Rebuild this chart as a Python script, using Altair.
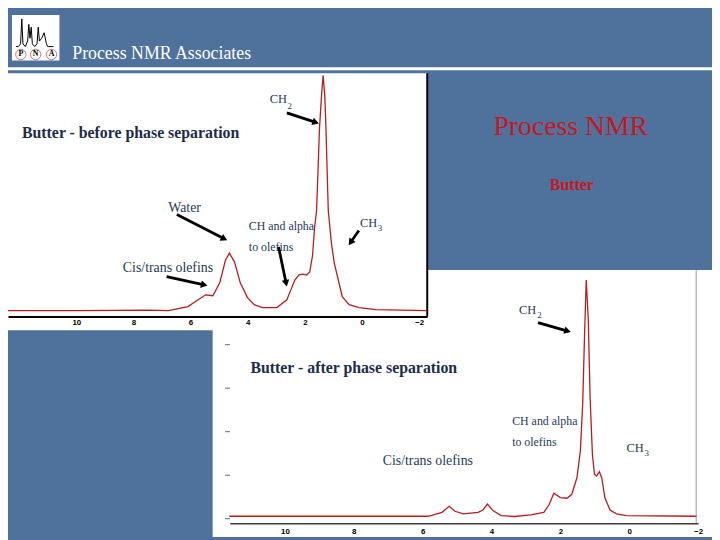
import math
import altair as alt
import pandas as pd

# ---------------- data ----------------
# Top spectrum: butter before phase separation (ppm, relative intensity)
top_ppm = [12.39, 10.0, 7.47, 6.78, 6.09, 5.74, 5.47, 5.22, 4.98, 4.78, 4.64, 4.46, 4.26, 4.01, 3.77,
           3.49, 2.98, 2.63, 2.49, 2.35, 2.21, 2.08, 1.94, 1.83, 1.73, 1.66, 1.59, 1.54, 1.49, 1.42,
           1.36, 1.30, 1.26, 1.22, 1.18, 1.07, 0.97, 0.83, 0.69, 0.45, 0.10, -0.48, -2.28]
top_int = [0.0, 0.0, 0.2, 0.0, 1.7, 4.6, 6.7, 6.3, 11.8, 21.4, 24.4, 20.6, 11.8, 5.5, 2.5,
           1.3, 1.3, 4.6, 8.8, 13.0, 15.1, 15.5, 15.1, 16.4, 23.5, 35.3, 42.4, 59.2, 76.9, 90.8,
           100.0, 90.8, 76.9, 59.2, 42.4, 28.6, 20.2, 13.0, 5.9, 2.5, 1.3, 0.4, 0.0]

# Bottom spectrum: butter after phase separation
bot_ppm = [11.61, 5.84, 5.44, 5.23, 5.06, 4.82, 4.39, 4.25, 4.12, 3.96, 3.72, 3.34, 2.86, 2.48, 2.33,
           2.19, 2.00, 1.81, 1.67, 1.52, 1.42, 1.35, 1.30, 1.25, 1.19, 1.14, 1.07, 1.01, 0.95, 0.87,
           0.80, 0.71, 0.56, 0.37, 0.09, -1.95]
bot_int = [0.9, 0.9, 2.7, 5.5, 3.2, 2.0, 2.7, 3.8, 6.5, 3.5, 1.2, 0.8, 1.5, 2.7, 6.2,
           11.5, 9.5, 9.2, 11.0, 18.6, 30.9, 53.6, 83.8, 109.5, 91.4, 56.5, 29.2, 20.1, 19.4, 21.4,
           18.6, 9.5, 3.8, 2.0, 1.2, 0.9]

x_tick_values = [10, 8, 6, 4, 2, 0, -2]
bot_y_tick_values = [0, 20, 40, 60, 80]

# annotation texts
top_title = ["Butter - before phase separation"]
bot_title = ["Butter - after phase separation"]
top_labels14 = ["Water", "Cis/trans olefins"]
top_labels12 = ["CH and alpha", "to olefins"]
top_ch = ["CH", "CH"]
top_sub = ["2", "3"]
bot_labels14 = ["Cis/trans olefins"]
bot_labels12 = ["CH and alpha", "to olefins"]
bot_ch = ["CH", "CH"]
bot_sub = ["2", "3"]

logo_x = [0, 1, 2, 2.5, 3, 4, 5, 5.5, 6, 6.5, 7, 8, 9, 9.5, 10, 11, 12, 13, 13.5, 14, 15, 16]
logo_y = [0, 0, 1, 10, 1, 0, 2, 8, 3, 7, 1, 0, 1, 7, 2, 3, 5, 1, 0, 0, 0, 0]

# ---------------- scales ----------------
TOP_X = dict(domain=[12.39, -2.28], range=[0, 423.9])
TOP_Y = dict(domain=[0, 100], range=[303, 65])
BOT_X = dict(domain=[11.6, -2.0], range=[224.3, 698.0])
BOT_Y = dict(domain=[0, 100], range=[513, 293])


def sc(d):
    return alt.Scale(domain=d["domain"], range=d["range"], nice=False, zero=False)


def px(d, v):
    (d0, d1), (r0, r1) = d["domain"], d["range"]
    return r0 + (v - d0) * (r1 - r0) / (d1 - d0)


def inv(d, p):
    (d0, d1), (r0, r1) = d["domain"], d["range"]
    return d0 + (p - r0) * (d1 - d0) / (r1 - r0)


SERIF = "Liberation Serif"
SANS = "Liberation Sans"
ANNO = "#263a57"
TITLE = "#1c2c4b"
RED_TRACE = "#b81c1c"
BLUE_BG = "#4f729c"

layers = []


def one():
    return alt.Data(values=[{}])


def rect(x1, x2, y1, y2, color):
    return alt.Chart(one()).mark_rect(color=color).encode(
        x=alt.value(x1), x2=alt.value(x2), y=alt.value(y1), y2=alt.value(y2))


def text_layer(texts, ppms, ints, XS, YS, size, weight="normal", color=ANNO, font=SERIF):
    df = pd.DataFrame({"text": texts, "ppm": ppms, "inten": ints})
    return alt.Chart(df).mark_text(align="left", baseline="middle", font=font, fontSize=size,
                                   fontWeight=weight, color=color).encode(
        x=alt.X("ppm:Q", scale=sc(XS), axis=None),
        y=alt.Y("inten:Q", scale=sc(YS), axis=None),
        text="text:N")


def arrows(starts, tips, XS, YS):
    rows = []
    for (p1, i1), (p2, i2) in zip(starts, tips):
        sx, sy = px(XS, p1), px(YS, i1)
        tx, ty = px(XS, p2), px(YS, i2)
        dx, dy = tx - sx, ty - sy
        L = math.hypot(dx, dy)
        ux, uy = dx / L, dy / L
        hx, hy = tx - 3.6 * ux, ty - 3.6 * uy
        ang = math.degrees(math.atan2(dy, dx)) % 360
        rows.append({"p1": p1, "i1": i1, "hp": inv(XS, hx), "hi": inv(YS, hy), "ang": ang})
    df = pd.DataFrame(rows)
    rule = alt.Chart(df).mark_rule(color="black", strokeWidth=2.8).encode(
        x=alt.X("p1:Q", scale=sc(XS), axis=None), y=alt.Y("i1:Q", scale=sc(YS), axis=None),
        x2="hp:Q", y2="hi:Q")
    head = alt.Chart(df).mark_point(shape="triangle-right", filled=True, opacity=1, size=60,
                                    color="black").encode(
        x=alt.X("hp:Q", scale=sc(XS), axis=None), y=alt.Y("hi:Q", scale=sc(YS), axis=None),
        angle=alt.Angle("ang:Q", scale=None))
    return [rule, head]


axis_label_style = dict(labelFont=SANS, labelFontSize=8, labelFontWeight="bold", labelColor="black",
                        ticks=False, grid=False, title=None, labelOverlap=False, labelFlush=False,
                        zindex=1)

# ---------------- bottom panel ----------------
layers.append(rect(207, 712, 262, 532, "white"))
layers.append(alt.Chart(one()).mark_rule(color="#9a9a9a", strokeWidth=1).encode(
    x=alt.value(696), y=alt.value(262), y2=alt.value(518)))

bot_df = pd.DataFrame({"ppm": bot_ppm, "inten": bot_int})
layers.append(alt.Chart(bot_df).mark_line(color=RED_TRACE, strokeWidth=1.3).encode(
    x=alt.X("ppm:Q", scale=sc(BOT_X),
            axis=alt.Axis(orient="bottom", offset=-14, values=x_tick_values, domainColor="#3a3a3a",
                          domainWidth=1.5, labelPadding=4, **axis_label_style)),
    y=alt.Y("inten:Q", scale=sc(BOT_Y),
            axis=alt.Axis(orient="left", offset=-224, values=bot_y_tick_values, labels=False,
                          domain=False, ticks=True, tickSize=5, tickColor="#666666", grid=False,
                          title=None, zindex=1))))

layers.append(text_layer(bot_title, [11.0], [69.1], BOT_X, BOT_Y, 16, "bold", TITLE))
layers.append(text_layer(bot_labels14, [7.16], [26.4], BOT_X, BOT_Y, 14))
layers.append(text_layer(bot_labels12, [3.40, 3.40], [44.5, 35.0], BOT_X, BOT_Y, 12))
layers.append(text_layer(bot_ch, [3.20, 0.08], [95.9, 32.3], BOT_X, BOT_Y, 12.5))
layers.append(text_layer(bot_sub, [2.67, -0.44], [93.2, 30.0], BOT_X, BOT_Y, 9))
layers += arrows([(2.65, 89.9)], [(1.69, 85.6)], BOT_X, BOT_Y)

# ---------------- top panel ----------------
layers.append(rect(0, 424, 63, 323, "white"))
layers.append(alt.Chart(one()).mark_rule(color="black", strokeWidth=2).encode(
    x=alt.value(424), y=alt.value(63), y2=alt.value(309)))

top_df = pd.DataFrame({"ppm": top_ppm, "inten": top_int})
layers.append(alt.Chart(top_df).mark_line(color=RED_TRACE, strokeWidth=1.3).encode(
    x=alt.X("ppm:Q", scale=sc(TOP_X),
            axis=alt.Axis(orient="bottom", offset=-223, values=x_tick_values, domainColor="black",
                          domainWidth=2, labelPadding=2, **axis_label_style)),
    y=alt.Y("inten:Q", scale=sc(TOP_Y), axis=None)))

layers.append(text_layer(top_title, [11.90], [75.6], TOP_X, TOP_Y, 16, "bold", TITLE))
layers.append(text_layer(top_labels14, [6.78, 8.37], [43.4, 18.2], TOP_X, TOP_Y, 14))
layers.append(text_layer(top_labels12, [3.96, 3.96], [36.1, 27.0], TOP_X, TOP_Y, 12))
layers.append(text_layer(top_ch, [3.23, 0.07], [89.9, 37.1], TOP_X, TOP_Y, 12.5))
layers.append(text_layer(top_sub, [2.61, -0.55], [87.0, 35.2], TOP_X, TOP_Y, 9))
layers += arrows([(2.63, 84.0), (6.48, 40.8), (6.84, 14.4), (2.92, 27.0), (0.11, 34.0)],
                 [(1.50, 79.5), (4.71, 29.8), (5.40, 10.6), (2.63, 10.1), (0.47, 27.7)],
                 TOP_X, TOP_Y)

# ---------------- slide header ----------------
layers.append(rect(0, 712, 57, 60, "white"))
layers.append(rect(4, 52, 4, 50, "white"))
logo_df = pd.DataFrame({"lx": logo_x, "ly": logo_y})
layers.append(alt.Chart(logo_df).mark_line(color="black", strokeWidth=1).encode(
    x=alt.X("lx:Q", scale=alt.Scale(domain=[0, 16], range=[8, 46], nice=False, zero=False), axis=None),
    y=alt.Y("ly:Q", scale=alt.Scale(domain=[0, 10], range=[36, 8], nice=False, zero=False), axis=None)))
for cx, letter in [(13, "P"), (28, "N"), (44, "A")]:
    layers.append(alt.Chart(one()).mark_point(shape="circle", size=110, filled=False,
                                              color="#c0392b", strokeWidth=1).encode(
        x=alt.value(cx), y=alt.value(44)))
    layers.append(alt.Chart(one()).mark_text(font=SERIF, fontSize=8, fontWeight="bold",
                                             color="black", align="center", baseline="middle").encode(
        x=alt.value(cx), y=alt.value(44), text=alt.value(letter)))

layers.append(alt.Chart(one()).mark_text(font=SERIF, fontSize=18, color="white", align="left",
                                         baseline="alphabetic").encode(
    x=alt.value(65), y=alt.value(49), text=alt.value("Process NMR Associates")))

# red slide title
layers.append(alt.Chart(one()).mark_text(font=SERIF, fontSize=28, color="#c8171e", align="left",
                                         baseline="middle").encode(
    x=alt.value(491), y=alt.value(117), text=alt.value("Process NMR")))
layers.append(alt.Chart(one()).mark_text(font=SERIF, fontSize=16, fontWeight="bold", color="#c8171e",
                                         align="left", baseline="middle").encode(
    x=alt.value(548), y=alt.value(176), text=alt.value("Butter")))

chart = alt.layer(*layers).resolve_scale(x="independent", y="independent").properties(
    width=712, height=532, background=BLUE_BG, padding=0,
    autosize=alt.AutoSizeParams(type="none"),
).configure_view(stroke=None)

chart.save("out.html", embed_options={"renderer": "svg", "actions": False})
